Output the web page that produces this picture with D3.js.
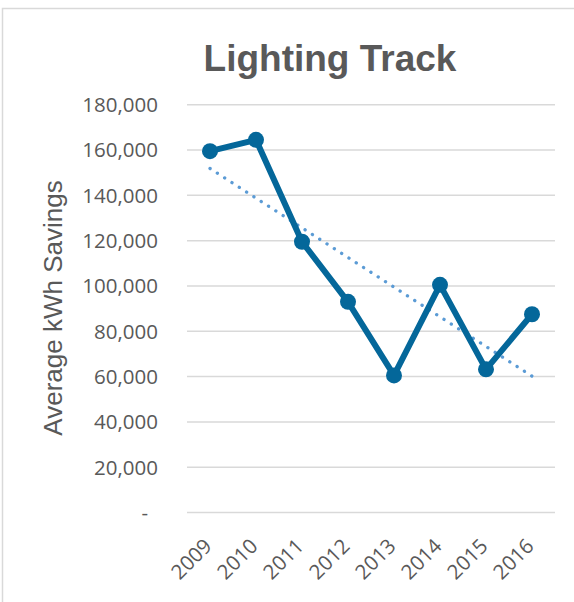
<!DOCTYPE html>
<html>
<head>
<meta charset="utf-8">
<script src="https://cdn.jsdelivr.net/npm/d3@7/dist/d3.min.js"></script>
<style>
  html, body { margin: 0; padding: 0; background: #fff; }
  svg { display: block; }
</style>
</head>
<body>
<svg id="chart" width="574" height="602"></svg>
<script>
// Average kWh savings per year for the lighting track
const years = ["2009", "2010", "2011", "2012", "2013", "2014", "2015", "2016"];
const savings = [159500, 164500, 119500, 93000, 60500, 100500, 63200, 87500];
const yTicks = [0, 20000, 40000, 60000, 80000, 100000, 120000, 140000, 160000, 180000];

const titleText = "Lighting Track";
const yTitleText = "Average kWh Savings";

const svg = d3.select("#chart");
const W = 574, H = 602;
const margin = { left: 187, right: 19, top: 104.7, bottom: 89.5 };

// Chart frame
svg.append("rect")
  .attr("x", 2.5).attr("y", 8.5)
  .attr("width", W + 20).attr("height", H + 20)
  .attr("fill", "#fff")
  .attr("stroke", "#d9d9d9").attr("stroke-width", 1.5);

const x = d3.scaleBand()
  .domain(years)
  .range([margin.left, W - margin.right]);

const y = d3.scaleLinear()
  .domain([0, 180000])
  .range([H - margin.bottom, margin.top]);

// Gridlines
svg.append("g")
  .selectAll("line")
  .data(yTicks)
  .join("line")
  .attr("x1", margin.left).attr("x2", W - margin.right)
  .attr("y1", d => y(d)).attr("y2", d => y(d))
  .attr("stroke", "#d9d9d9").attr("stroke-width", 1.5);

// Y axis tick labels
const fmt = d3.format(",");
const yAxis = d3.axisLeft(y)
  .tickValues(yTicks)
  .tickSize(0)
  .tickPadding(0)
  .tickFormat(d => d === 0 ? "-" : fmt(d));

const yg = svg.append("g")
  .attr("transform", `translate(158,0)`)
  .call(yAxis);
yg.select(".domain").remove();
yg.selectAll("text")
  .attr("fill", "#595959")
  .attr("font-family", "'Open Sans', sans-serif")
  .attr("font-size", 20.5)
  .attr("dy", "0.34em")
  .attr("x", d => d === 0 ? -10 : 0);

// X axis labels, rotated
const xAxis = d3.axisBottom(x).tickSize(0).tickPadding(0);
const xg = svg.append("g")
  .attr("transform", `translate(0,${H - margin.bottom})`)
  .call(xAxis);
xg.select(".domain").remove();
xg.selectAll("text")
  .attr("fill", "#595959")
  .attr("font-family", "'Open Sans', sans-serif")
  .attr("font-size", 20.5)
  .attr("text-anchor", "end")
  .attr("dy", 0)
  .attr("y", 0)
  .attr("transform", "translate(3,35) rotate(-45)");

// Linear trend of the series (least squares)
const idx = savings.map((_, i) => i + 1);
const mx = d3.mean(idx), my = d3.mean(savings);
const slope = d3.sum(idx, (xi, i) => (xi - mx) * (savings[i] - my)) /
              d3.sum(idx, xi => (xi - mx) * (xi - mx));
const intercept = my - slope * mx;
const trend = idx.map(xi => intercept + slope * xi);

const cx = d => x(d) + x.bandwidth() / 2;

svg.append("path")
  .datum(years.map((yr, i) => [cx(yr), y(trend[i])]))
  .attr("d", d3.line())
  .attr("fill", "none")
  .attr("stroke", "#5b9bd5")
  .attr("stroke-width", 3.3)
  .attr("stroke-linecap", "round")
  .attr("stroke-dasharray", "0.1 8.6");

// Savings line with markers
const data = years.map((yr, i) => ({ yr, v: savings[i] }));
svg.append("path")
  .datum(data)
  .attr("d", d3.line().x(d => cx(d.yr)).y(d => y(d.v)))
  .attr("fill", "none")
  .attr("stroke", "#04679a")
  .attr("stroke-width", 6)
  .attr("stroke-linejoin", "round");

svg.append("g")
  .selectAll("circle")
  .data(data)
  .join("circle")
  .attr("cx", d => cx(d.yr))
  .attr("cy", d => y(d.v))
  .attr("r", 8)
  .attr("fill", "#04679a");

// Titles
svg.append("text")
  .attr("x", 330).attr("y", 71)
  .attr("text-anchor", "middle")
  .attr("font-family", "'Liberation Sans', Arial, sans-serif")
  .attr("font-weight", "bold")
  .attr("font-size", 37)
  .attr("fill", "#595959")
  .text(titleText);

svg.append("text")
  .attr("transform", "translate(62,308) rotate(-90)")
  .attr("text-anchor", "middle")
  .attr("font-family", "'Liberation Sans', Arial, sans-serif")
  .attr("font-size", 26)
  .attr("fill", "#595959")
  .text(yTitleText);
</script>
</body>
</html>
